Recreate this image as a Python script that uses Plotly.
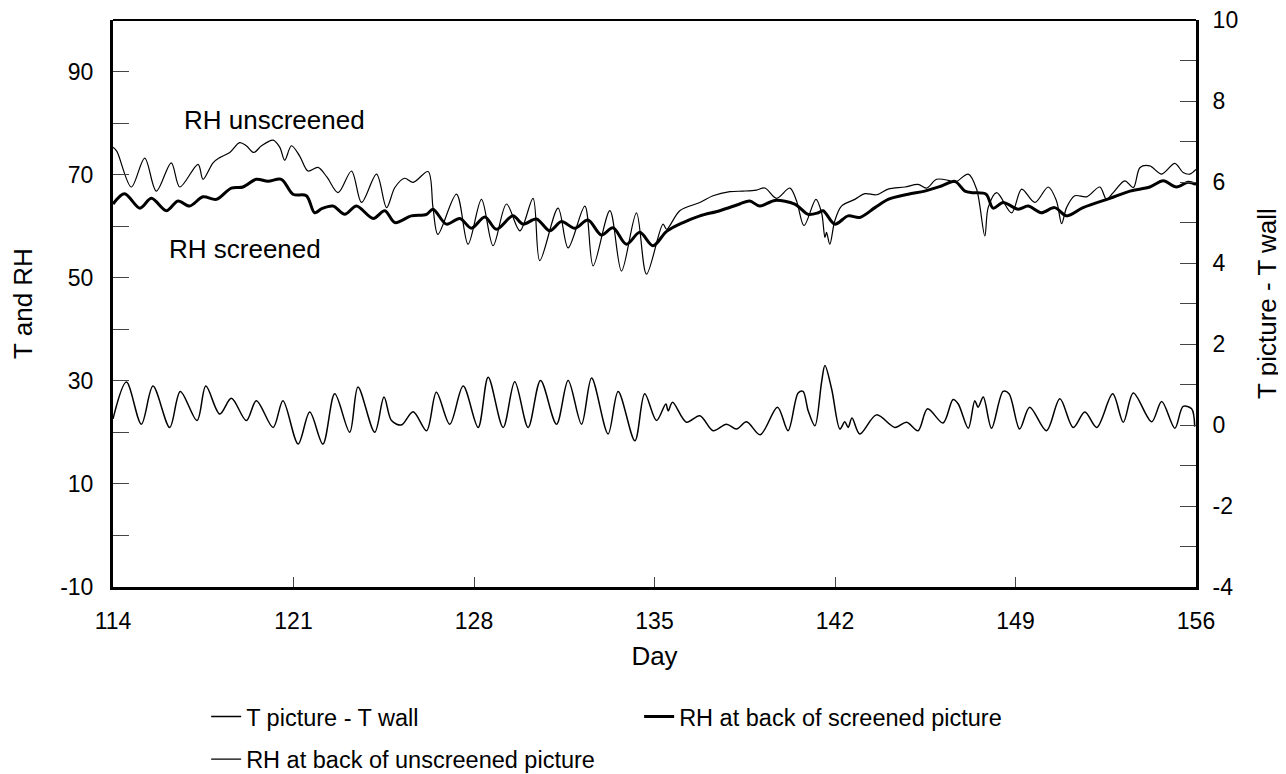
import plotly.graph_objects as go

# ---- data ----
unscr_day = [114.0, 114.15, 114.71, 115.23, 115.68, 116.26, 116.59, 117.30, 117.49, 117.88, 118.14, 118.53,
             118.91, 119.17, 119.46, 119.76, 120.21, 120.47, 120.66, 120.92, 121.24, 121.56, 121.95, 122.30,
             122.73, 123.25, 123.64, 124.22, 124.61, 124.93, 125.31, 125.64, 126.22, 126.41, 126.60, 127.32,
             127.77, 128.29, 128.74, 129.26, 129.78, 130.29, 130.55, 131.26, 131.65, 132.30, 132.62, 133.27,
             133.72, 134.30, 134.69, 135.33, 135.47, 135.98, 136.76, 137.27, 137.92, 138.44, 138.95, 139.28,
             139.73, 140.25, 140.51, 140.80, 141.26, 141.48, 141.61, 141.67, 141.80, 141.99, 142.25, 142.77,
             143.16, 143.61, 144.06, 144.71, 145.22, 145.55, 145.94, 146.39, 146.65, 147.17, 147.49, 147.81,
             147.94, 148.27, 148.85, 149.24, 149.75, 150.27, 150.59, 150.79, 150.98, 151.30, 151.76, 152.27,
             152.53, 152.79, 153.24, 153.57, 153.83, 154.21, 154.67, 155.18, 155.50, 155.76, 156.0]
unscr_rh = [75.3, 74.5, 67.6, 73.2, 66.8, 72.3, 67.6, 72.0, 69.1, 72.3, 73.3, 74.3,
            76.2, 75.6, 74.3, 75.6, 76.7, 75.3, 72.8, 75.6, 73.6, 70.7, 71.4, 69.5,
            66.5, 70.7, 64.6, 70.1, 63.6, 67.5, 69.3, 68.5, 70.6, 63.6, 58.4, 66.2,
            56.5, 65.2, 56.2, 64.3, 59.1, 65.4, 53.3, 63.5, 55.8, 63.9, 52.3, 63.0,
            51.3, 62.6, 50.7, 60.4, 59.4, 63.0, 64.6, 65.9, 66.7, 66.8, 67.0, 67.4,
            65.4, 67.4, 64.9, 60.1, 65.2, 62.6, 57.8, 58.8, 56.5, 61.0, 63.9, 65.2,
            66.3, 66.1, 67.2, 67.6, 68.1, 67.4, 69.1, 68.9, 68.5, 70.1, 67.2, 58.1,
            63.6, 66.5, 62.6, 67.2, 64.6, 67.6, 64.9, 60.5, 63.6, 65.9, 65.7, 67.6,
            65.2, 66.5, 68.8, 67.5, 71.4, 71.7, 70.1, 72.2, 70.4, 70.1, 71.0]

scr_day = [114.0, 114.45, 115.04, 115.49, 116.07, 116.52, 116.97, 117.49, 118.01, 118.59, 119.04, 119.56,
           120.01, 120.53, 120.98, 121.50, 121.82, 122.10, 122.53, 122.99, 123.44, 124.09, 124.54, 124.93,
           125.57, 126.16, 126.41, 126.93, 127.45, 127.90, 128.42, 128.87, 129.51, 129.90, 130.42, 130.94,
           131.39, 131.91, 132.42, 132.94, 133.39, 133.91, 134.43, 134.94, 135.47, 136.11, 136.76, 137.53,
           138.30, 138.69, 139.08, 139.67, 140.44, 140.96, 141.35, 141.54, 141.99, 142.51, 142.96, 143.55,
           144.06, 144.84, 145.48, 146.13, 146.65, 147.04, 147.36, 147.86, 148.13, 148.52, 149.10, 149.49,
           150.00, 150.52, 150.98, 151.62, 152.66, 153.44, 154.21, 154.73, 155.24, 155.69, 156.0]
scr_rh = [64.3, 66.3, 63.5, 65.4, 63.0, 64.9, 63.9, 65.7, 65.2, 67.4, 67.6, 69.1,
          68.7, 69.1, 66.2, 65.9, 62.6, 63.4, 63.9, 62.3, 63.9, 61.5, 63.0, 60.7,
          62.0, 62.3, 63.3, 60.4, 61.5, 59.6, 61.8, 59.4, 62.0, 60.4, 61.4, 59.1,
          60.9, 59.6, 61.2, 58.3, 59.7, 56.5, 58.8, 56.2, 59.0, 60.7, 62.0, 63.0,
          64.3, 64.9, 63.9, 65.0, 64.3, 62.3, 62.6, 63.0, 60.4, 62.0, 61.7, 63.6,
          65.2, 66.2, 66.8, 67.8, 68.7, 66.8, 66.5, 66.2, 63.5, 64.6, 63.3, 63.9,
          62.6, 63.6, 62.0, 63.6, 65.4, 66.8, 67.6, 68.8, 67.6, 68.5, 68.1]

tdiff_day = [114.0, 114.52, 115.10, 115.55, 116.20, 116.61, 117.26, 117.60, 118.14, 118.59, 119.17, 119.56,
             120.21, 120.59, 121.18, 121.63, 122.14, 122.60, 123.18, 123.50, 124.15, 124.51, 124.80, 125.18,
             125.64, 126.16, 126.54, 127.06, 127.58, 128.16, 128.55, 129.13, 129.58, 130.10, 130.58, 131.20,
             131.65, 132.17, 132.56, 133.20, 133.59, 134.24, 134.62, 135.08, 135.44, 135.53, 135.70, 136.24,
             136.76, 137.27, 137.79, 138.18, 138.57, 139.10, 139.77, 140.18, 140.57, 140.76, 140.96, 141.22,
             141.48, 141.61, 141.87, 142.19, 142.38, 142.51, 142.66, 142.96, 143.61, 144.32, 144.78, 145.22,
             145.59, 146.19, 146.58, 146.78, 147.17, 147.42, 147.55, 147.75, 148.07, 148.52, 148.75, 149.16,
             149.55, 150.20, 150.72, 151.24, 151.69, 152.15, 152.77, 153.18, 153.57, 154.28, 154.67, 155.18,
             155.50, 155.83, 155.95]
tdiff = [0.15, 1.06, 0.02, 0.96, -0.06, 0.83, 0.11, 0.96, 0.27, 0.66, 0.11, 0.60,
         -0.06, 0.60, -0.47, 0.32, -0.47, 0.77, -0.18, 0.94, -0.18, 0.69, 0.11, 0.0,
         0.33, -0.14, 0.81, 0.02, 0.96, -0.06, 1.18, -0.06, 1.07, -0.06, 1.10, 0.02,
         1.10, 0.02, 1.16, -0.22, 0.83, -0.39, 0.77, 0.11, 0.52, 0.35, 0.56, 0.07,
         0.23, -0.14, 0.02, -0.10, 0.08, -0.24, 0.44, -0.14, 0.79, 0.83, 0.35, -0.02,
         1.06, 1.47, 0.89, -0.10, 0.08, -0.06, 0.17, -0.22, 0.25, -0.06, 0.07, -0.14,
         0.40, 0.05, 0.63, 0.52, -0.08, 0.60, 0.44, 0.69, -0.08, 0.83, 0.77, -0.10,
         0.44, -0.14, 0.65, -0.06, 0.32, -0.06, 0.77, 0.07, 0.79, 0.08, 0.58, -0.08,
         0.46, 0.40, -0.04]

x_ticks = [114, 121, 128, 135, 142, 149, 156]
left_ticks = [-10, 10, 30, 50, 70, 90]
left_labels = ["-10", "10", "30", "50", "70", "90"]
right_ticks = [-4, -2, 0, 2, 4, 6, 8, 10]
right_labels = ["-4", "-2", "0", "2", "4", "6", "8", "10"]

FONT = "Liberation Sans, Arial, sans-serif"

fig = go.Figure()
fig.add_trace(go.Scatter(x=unscr_day, y=unscr_rh, mode="lines", name="RH at back of unscreened picture",
                         line=dict(color="black", width=1.2, shape="spline", smoothing=0.9), legend="legend2"))
fig.add_trace(go.Scatter(x=scr_day, y=scr_rh, mode="lines", name="RH at back of screened picture",
                         line=dict(color="black", width=3, shape="spline", smoothing=0.9), legendrank=2))
fig.add_trace(go.Scatter(x=tdiff_day, y=tdiff, mode="lines", name="T picture - T wall", yaxis="y2",
                         line=dict(color="black", width=1.5, shape="spline", smoothing=0.9), legendrank=1))

leg_common = dict(orientation="h", xanchor="left", yanchor="top", itemwidth=30,
                  font=dict(size=23.5), bgcolor="rgba(0,0,0,0)", entrywidth=388)

# the page body has an 8px margin, so the figure is 1278x766 to fill the 1286x774 window
fig.update_layout(
    width=1278, height=766,
    margin=dict(l=105, r=90, t=12, b=187, autoexpand=False),
    paper_bgcolor="white", plot_bgcolor="white",
    font=dict(family=FONT, size=23, color="black"),
    showlegend=True,
    legend=dict(x=0.086, y=-0.190, **leg_common),
    legend2=dict(x=0.086, y=-0.265, **leg_common),
    xaxis=dict(range=[114, 156], tickvals=x_ticks, ticks="inside", ticklen=10, tickwidth=1,
               ticklabelstandoff=11, automargin=False, ticklabeloverflow="allow",
               showline=True, linewidth=3, linecolor="black", showgrid=False, zeroline=False,
               title=dict(text="Day", font=dict(size=26), standoff=15)),
    yaxis=dict(range=[-10, 100], tickvals=left_ticks, ticktext=left_labels, ticks="inside", ticklen=16,
               tickwidth=1, ticklabelstandoff=12, automargin=False, ticklabeloverflow="allow",
               minor=dict(tickvals=[0, 20, 40, 60, 80], ticks="inside", ticklen=16, tickwidth=1, showgrid=False),
               showline=True, linewidth=3, linecolor="black", showgrid=False, zeroline=False,
               title=dict(text="T and RH", font=dict(size=26), standoff=22)),
    yaxis2=dict(range=[-4, 10], tickvals=right_ticks, ticktext=right_labels, ticks="inside", ticklen=16,
                tickwidth=1, ticklabelstandoff=9, automargin=False, ticklabeloverflow="allow",
                minor=dict(dtick=1, tick0=0, ticks="inside", ticklen=16, tickwidth=1, showgrid=False),
                overlaying="y", side="right",
                showline=True, linewidth=3, linecolor="black", showgrid=False, zeroline=False,
                title=dict(text="T picture - T wall", font=dict(size=26), standoff=21)),
)

fig.add_shape(type="line", xref="paper", yref="paper", x0=0, x1=1, y0=1, y1=1,
              line=dict(color="black", width=2))

fig.add_annotation(text="RH unscreened", x=120.25, y=80.6, xref="x", yref="y", showarrow=False,
                   font=dict(size=26))
fig.add_annotation(text="RH screened", x=119.1, y=55.6, xref="x", yref="y", showarrow=False,
                   font=dict(size=26))

fig.write_html("out.html")
